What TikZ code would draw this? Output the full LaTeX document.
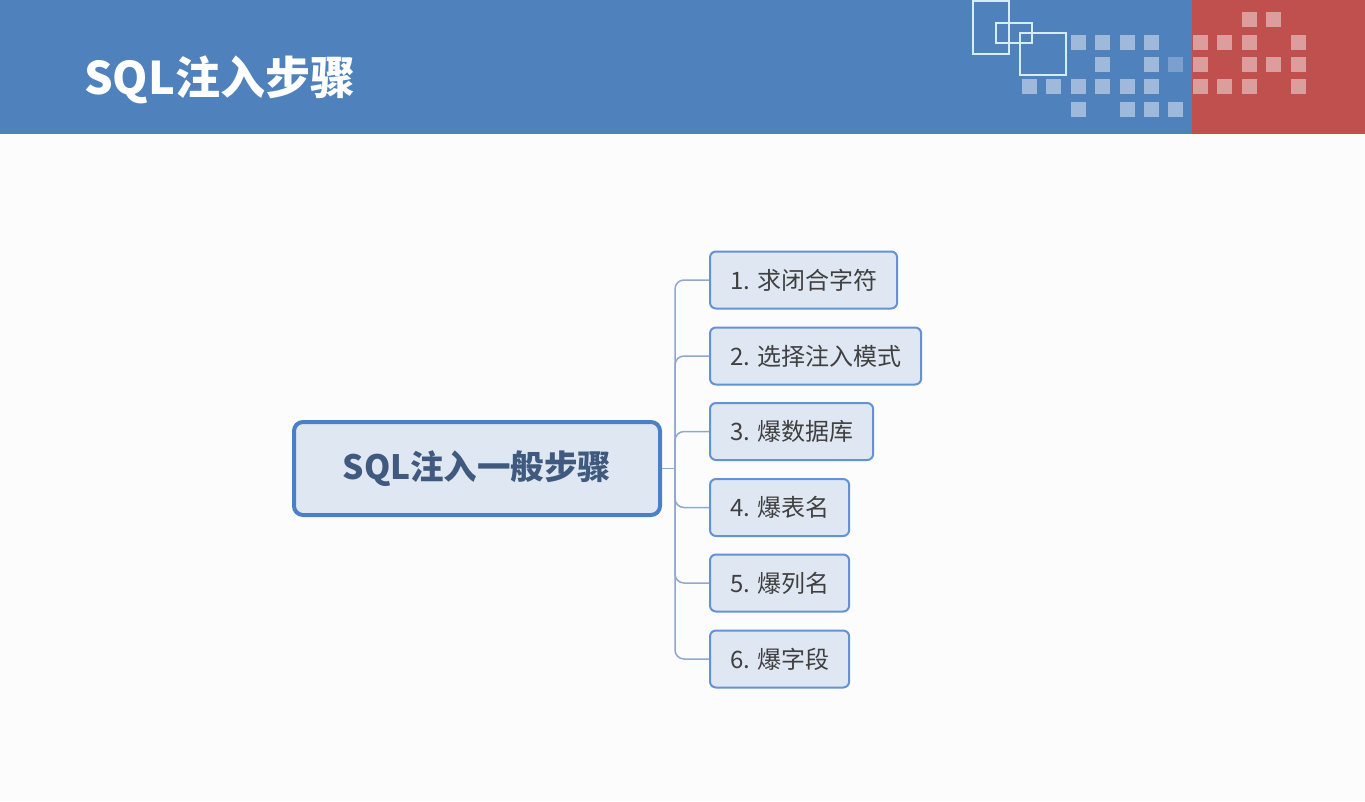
\documentclass[tikz,border=0pt]{standalone}
\usepackage{fontspec}
\setmainfont{Noto Sans CJK SC}
\usetikzlibrary{positioning}
\definecolor{hdrblue}{HTML}{4F81BD}
\definecolor{hdrred}{HTML}{C0504D}
\definecolor{boxfill}{HTML}{DFE7F3}
\definecolor{rootborder}{HTML}{4A80C8}
\definecolor{childborder}{HTML}{6393D2}
\definecolor{conncol}{HTML}{90A8CC}
\definecolor{roottext}{HTML}{3F5A7E}
\definecolor{childtext}{HTML}{404040}
\definecolor{outline}{HTML}{D4EEF8}
\tikzset{
  x=1pt,y=-1pt,
  sq/.style={fill=white,fill opacity=0.45,draw=none},
  rootbox/.style={draw=rootborder,line width=4pt,fill=boxfill,rounded corners=9pt,
    minimum width=366pt,minimum height=93pt,inner sep=0pt,text=roottext,
    font=\bfseries\fontsize{33.5}{38}\selectfont},
  childbox/.style={draw=childborder,line width=2pt,fill=boxfill,rounded corners=6pt,
    minimum height=57pt,inner xsep=20pt,inner ysep=0pt,text=childtext,anchor=west,
    font=\fontsize{24}{28}\selectfont},
  conn/.style={draw=conncol,line width=1.5pt,rounded corners=9pt},
}
\begin{document}
\begin{tikzpicture}
\useasboundingbox (0,0) rectangle (1365,801);
\fill[white!99!black] (0,0) rectangle (1365,801);
% header
\fill[hdrblue] (0,0) rectangle (1192,134);
\fill[hdrred] (1192,0) rectangle (1365,134);
\node[anchor=west,text=white,font=\bfseries\fontsize{45}{50}\selectfont,inner sep=0pt] (title) at (84,80) {SQL注入步骤};
% outline rectangles
\draw[outline,line width=1.3pt] (973,1) rectangle (1009,54);
\draw[outline,line width=1.3pt] (996,23) rectangle (1032,43);
\draw[outline,line width=1.3pt] (1020,33) rectangle (1066,75);
% squares
\foreach \c/\r in {9/0,10/0,
  2/1,3/1,4/1,5/1,7/1,8/1,9/1,11/1,
  3/2,5/2,7/2,9/2,10/2,11/2,
  0/3,1/3,2/3,3/3,4/3,5/3,7/3,8/3,9/3,11/3,
  2/4,4/4,5/4}{
  \fill[sq] ({1021.7+24.45*\c},{12.3+22.35*\r}) rectangle ++(15,15);
}
\fill[white,fill opacity=0.25] ({1021.7+24.45*6},{12.3+22.35*2}) rectangle ++(15,15);
\fill[sq] ({1021.7+24.45*6},{12.3+22.35*4}) rectangle ++(15,15);
% mind map
\node[rootbox] (root) at (477,468.5) {SQL注入一般步骤};
\node[childbox] (c1) at (709,280) {1. 求闭合字符};
\node[childbox] (c2) at (709,356) {2. 选择注入模式};
\node[childbox] (c3) at (709,431.5) {3. 爆数据库};
\node[childbox] (c4) at (709,507.5) {4. 爆表名};
\node[childbox] (c5) at (709,583) {5. 爆列名};
\node[childbox] (c6) at (709,659) {6. 爆字段};
\coordinate (spine) at (675,468.5);
\draw[conn] (root.east) -- (spine);
\foreach \i in {1,...,6}{
  \draw[conn] (spine) |- (c\i.west);
}
\end{tikzpicture}
\end{document}
